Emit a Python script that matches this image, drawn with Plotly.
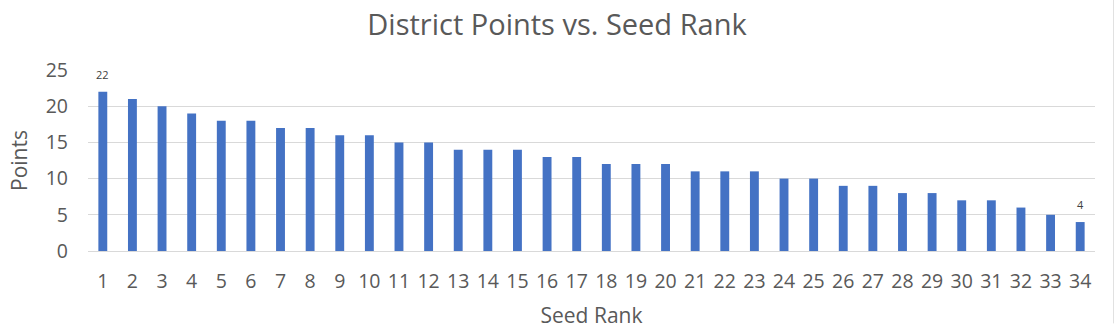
import plotly.graph_objects as go

# Seed rank and district points per seed
seed_rank = list(range(1, 35))
points = [22, 21, 20, 19, 18, 18, 17, 17, 16, 16, 15, 15, 14, 14, 14, 13, 13,
          12, 12, 12, 11, 11, 11, 10, 10, 9, 9, 8, 8, 7, 7, 6, 5, 4]

# Only the first and last bar carry a value label
labeled_idx = [0, len(points) - 1]

font_family = "Open Sans, Noto Sans, sans-serif"
text_color = "#595959"

fig = go.Figure(
    go.Bar(
        x=[str(s) for s in seed_rank],
        y=points,
        marker=dict(color="#4472C4", line=dict(width=0)),
    )
)

# Category axis: annotation x is the category index
for i in labeled_idx:
    fig.add_annotation(
        x=i, y=points[i], text=str(points[i]),
        showarrow=False, yanchor="bottom", yshift=8,
        font=dict(size=11, color="#404040", family=font_family),
    )

fig.update_layout(
    width=1114,
    height=335,
    margin=dict(l=88, r=19, t=70, b=82),
    paper_bgcolor="white",
    plot_bgcolor="white",
    bargap=0.7,
    showlegend=False,
    font=dict(family=font_family, color=text_color),
    title=dict(
        text="District Points vs. Seed Rank",
        x=0.5,
        xanchor="center",
        y=0.925,
        yanchor="middle",
        font=dict(size=29, color=text_color, family=font_family),
    ),
    xaxis=dict(
        type="category",
        range=[-0.5, len(seed_rank) - 0.5],
        tickfont=dict(size=19.5, color=text_color),
        showgrid=False,
        showline=False,
        ticks="",
        ticklabelstandoff=16,
        title=dict(text="Seed Rank", font=dict(size=21, color=text_color), standoff=15),
    ),
    yaxis=dict(
        range=[0, 25],
        dtick=5,
        tickfont=dict(size=19.5, color=text_color),
        gridcolor="#D9D9D9",
        gridwidth=1,
        zeroline=True,
        zerolinecolor="#D9D9D9",
        zerolinewidth=1,
        showline=False,
        ticks="",
        ticklabelstandoff=19,
        title=dict(text="Points", font=dict(size=21, color=text_color), standoff=12),
    ),
    shapes=[
        dict(type="line", xref="paper", yref="paper",
             x0=1.0186, x1=1.0186, y0=-0.4, y1=1.4,
             line=dict(color="#D9D9D9", width=1)),
    ],
)

fig.write_html("out.html")
